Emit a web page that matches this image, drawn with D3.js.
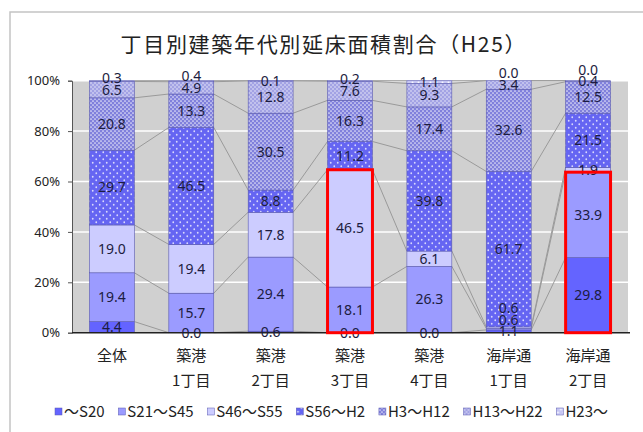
<!DOCTYPE html>
<html>
<head>
<meta charset="utf-8">
<script src="https://cdn.jsdelivr.net/npm/d3@7"></script>
<style>
  body { margin: 0; background: #fff; }
  svg text { font-family: "Liberation Sans Narrow", "Noto Sans", sans-serif; }
  .jp { font-family: "Noto Sans CJK JP", sans-serif; }
</style>
</head>
<body>
<script>

// data
var categories = [["全体"], ["築港", "1丁目"], ["築港", "2丁目"], ["築港", "3丁目"], ["築港", "4丁目"], ["海岸通", "1丁目"], ["海岸通", "2丁目"]];
var seriesNames = ["～S20", "S21～S45", "S46～S55", "S56～H2", "H3～H12", "H13～H22", "H23～"];
var s20   = [4.4, 0.0, 0.6, 0.0, 0.0, 1.1, 29.8];
var s21   = [19.4, 15.7, 29.4, 18.1, 26.3, 0.6, 33.9];
var s46   = [19.0, 19.4, 17.8, 46.5, 6.1, 0.6, 1.9];
var s56   = [29.7, 46.5, 8.8, 11.2, 39.8, 61.7, 21.5];
var h3    = [20.8, 13.3, 30.5, 16.3, 17.4, 32.6, 12.5];
var h13   = [6.5, 4.9, 12.8, 7.6, 9.3, 3.4, 0.4];
var h23   = [0.3, 0.4, 0.1, 0.2, 1.1, 0.0, 0.0];
var yTicks = [0, 0.2, 0.4, 0.6, 0.8, 1];
// red boxes: column and last series covered
var highlights = [{col: 3, upTo: 2}, {col: 6, upTo: 1}];

var series = [s20, s21, s46, s56, h3, h13, h23];

var width = 643, height = 432;
var svg = d3.select('body').append('svg').attr('width', width).attr('height', height);

// patterns
var defs = svg.append('defs');
function dotPattern(id, bg, size, r, op) {
  var p = defs.append('pattern').attr('id', id).attr('patternUnits', 'userSpaceOnUse')
      .attr('width', size).attr('height', size);
  p.append('rect').attr('width', size).attr('height', size).attr('fill', bg);
  [[size / 4, size / 4], [size * 3 / 4, size * 3 / 4]].forEach(function(c) {
    p.append('circle').attr('cx', c[0]).attr('cy', c[1]).attr('r', r).attr('fill', '#fff').attr('opacity', op);
  });
}
dotPattern('pS56', '#6565f2', 7, 0.9, 0.75);
dotPattern('pH3', '#8080dc', 4, 0.85, 0.8);
dotPattern('pH13', '#a2a2e4', 4, 0.8, 0.75);
dotPattern('pH23', '#c5c5f3', 6, 1.0, 0.9);
var fills = ['#6464ff', '#9b9bff', '#ccccff', 'url(#pS56)', 'url(#pH3)', 'url(#pH13)', 'url(#pH23)'];

// frame
svg.append('path').attr('d', 'M10,432V12H643').attr('fill', 'none').attr('stroke', '#c4c4c4').attr('stroke-width', 1.5);

// title
svg.append('text').attr('class', 'jp').attr('x', 323).attr('y', 52).attr('text-anchor', 'middle')
   .attr('font-size', 21).attr('fill', '#222')
   .attr('textLength', 405).attr('lengthAdjust', 'spacing')
   .text('丁目別建築年代別延床面積割合（H25）');

var x = d3.scaleBand().domain(d3.range(categories.length)).range([72, 628]).paddingInner(0.434).paddingOuter(0.22);
var y = d3.scaleLinear().domain([0, 1]).range([332.7, 80.7]);
var bw = x.bandwidth();

// plot background and grid
svg.append('rect').attr('x', 72).attr('y', y(1)).attr('width', 628 - 72).attr('height', y(0) - y(1)).attr('fill', '#d0d0d0');
svg.selectAll('.grid').data(yTicks.slice(1)).enter().append('line')
   .attr('x1', 72).attr('x2', 628).attr('y1', function(d) { return y(d); }).attr('y2', function(d) { return y(d); })
   .attr('stroke', '#fff').attr('stroke-width', 1.5);

// stacked (percent)
var cols = categories.map(function(c, i) {
  var total = d3.sum(series, function(s) { return s[i]; });
  var acc = 0;
  return series.map(function(s, k) {
    var y0 = acc; acc += s[i] / total;
    return {col: i, k: k, v: s[i], y0: y0, y1: acc};
  });
});

// series lines
series.forEach(function(s, k) {
  for (var i = 0; i < categories.length - 1; i++) {
    svg.append('line')
       .attr('x1', x(i) + bw).attr('y1', y(cols[i][k].y1))
       .attr('x2', x(i + 1)).attr('y2', y(cols[i + 1][k].y1))
       .attr('stroke', '#9a9a9a').attr('stroke-width', 1);
  }
});

var segs = [].concat.apply([], cols);
svg.selectAll('.seg').data(segs).enter().append('rect')
   .attr('x', function(d) { return x(d.col); })
   .attr('width', bw)
   .attr('y', function(d) { return y(d.y1); })
   .attr('height', function(d) { return y(d.y0) - y(d.y1); })
   .attr('fill', function(d) { return fills[d.k]; })
   .attr('stroke', '#5a5ab0').attr('stroke-width', 0.6);

// axes
var yAxis = d3.axisLeft(y).tickValues(yTicks).tickFormat(d3.format('.0%')).tickSize(4).tickPadding(8);
var gy = svg.append('g').attr('transform', 'translate(72,0)').call(yAxis);
gy.select('.domain').attr('stroke', '#555');
gy.selectAll('.tick line').attr('stroke', '#555');
gy.selectAll('text').attr('fill', '#222').attr('font-family', 'Noto Sans, sans-serif').attr('font-size', 13);
svg.append('line').attr('x1', 72).attr('x2', 630).attr('y1', y(0)).attr('y2', y(0)).attr('stroke', '#222').attr('stroke-width', 1.5);

// value labels: sweep bottom-up, pushing crowded ones upward
cols.forEach(function(col) {
  var prev = Infinity;
  col.forEach(function(d) {
    var ty = Math.min(y((d.y0 + d.y1) / 2), prev - 11.5);
    prev = ty;
    svg.append('text').attr('x', x(d.col) + bw / 2).attr('y', ty)
       .attr('dy', '0.35em').attr('text-anchor', 'middle')
       .attr('font-size', 14).attr('fill', '#1c1c40')
       .text(d3.format('.1f')(d.v));
  });
});

// red boxes
highlights.forEach(function(h) {
  svg.append('rect').attr('x', x(h.col)).attr('width', bw)
     .attr('y', y(cols[h.col][h.upTo].y1)).attr('height', y(0) - y(cols[h.col][h.upTo].y1))
     .attr('fill', 'none').attr('stroke', '#ff0000').attr('stroke-width', 3);
});

// category labels
categories.forEach(function(c, i) {
  var t = svg.append('text').attr('class', 'jp').attr('x', x(i) + bw / 2).attr('text-anchor', 'middle')
     .attr('font-size', 15).attr('fill', '#222');
  c.forEach(function(line, j) {
    t.append('tspan').attr('x', x(i) + bw / 2).attr('y', 361 + j * 25).text(line);
  });
});

// legend
var lg = svg.append('g');
var items = seriesNames.map(function(n, k) {
  var g = lg.append('g');
  g.append('rect').attr('width', 7).attr('height', 7).attr('y', -9).attr('fill', fills[k]).attr('stroke', '#5a5ab0').attr('stroke-width', 0.5);
  var t = g.append('text').attr('class', 'jp').attr('x', 9).attr('font-size', 15).attr('fill', '#222').text(n);
  return {g: g, w: 9 + t.node().getComputedTextLength()};
});
var total = d3.sum(items, function(d) { return d.w; });
var gapL = (608 - 55 - total) / (items.length - 1);
var lx = 55;
items.forEach(function(it) {
  it.g.attr('transform', 'translate(' + lx + ',417)');
  lx += it.w + gapL;
});

</script>
</body>
</html>
